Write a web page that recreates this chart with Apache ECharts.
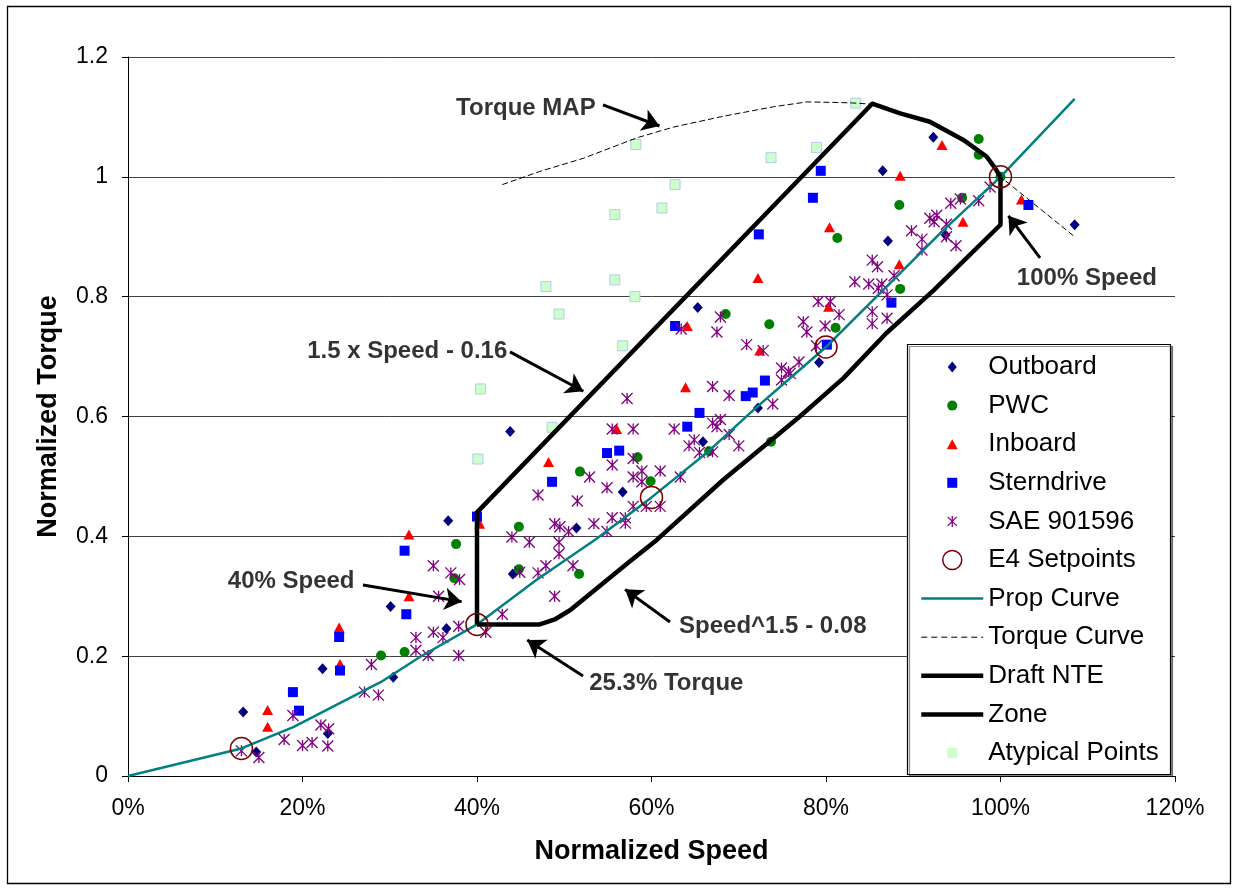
<!DOCTYPE html>
<html><head><meta charset="utf-8">
<script src="https://cdn.jsdelivr.net/npm/echarts@6/dist/echarts.min.js"></script>
<style>html,body{margin:0;padding:0;background:#fff}#chart{width:1238px;height:890px}</style>
</head><body><div id="chart"></div>
<script>
const FONT = "'Liberation Sans', Arial, sans-serif";

const xTickValues = [0, 0.2, 0.4, 0.6, 0.8, 1.0, 1.2];
const yTickValues = [0, 0.2, 0.4, 0.6, 0.8, 1.0, 1.2];

const outboard = [[0.132,0.107],[0.147,0.040],[0.223,0.179],[0.229,0.071],[0.301,0.283],[0.304,0.165],[0.367,0.426],[0.365,0.246],[0.438,0.575],[0.441,0.337],[0.514,0.414],[0.567,0.474],[0.653,0.782],[0.659,0.558],[0.722,0.614],[0.792,0.690],[0.865,1.010],[0.871,0.893],[0.923,1.066],[0.937,0.903],[1.085,0.920]];

const pwc = [[0.290,0.201],[0.317,0.207],[0.374,0.330],[0.376,0.387],[0.448,0.416],[0.448,0.345],[0.517,0.337],[0.518,0.508],[0.584,0.532],[0.599,0.492],[0.666,0.542],[0.685,0.771],[0.735,0.754],[0.737,0.558],[0.811,0.748],[0.813,0.898],[0.884,0.953],[0.885,0.813],[0.956,0.965],[0.975,1.063],[0.975,1.037],[1.000,1.000]];

const inboard = [[0.160,0.110],[0.160,0.082],[0.242,0.248],[0.243,0.187],[0.322,0.403],[0.322,0.300],[0.403,0.421],[0.482,0.524],[0.560,0.579],[0.639,0.649],[0.641,0.751],[0.722,0.831],[0.724,0.710],[0.803,0.783],[0.804,0.916],[0.884,0.854],[0.885,1.002],[0.933,1.053],[0.957,0.925],[1.024,0.962]];

const sterndrive = [[0.189,0.140],[0.196,0.109],[0.242,0.232],[0.243,0.176],[0.317,0.376],[0.319,0.270],[0.400,0.433],[0.486,0.491],[0.549,0.539],[0.563,0.543],[0.627,0.751],[0.641,0.583],[0.655,0.606],[0.708,0.634],[0.716,0.640],[0.730,0.660],[0.723,0.904],[0.785,0.965],[0.794,1.010],[0.801,0.720],[0.875,0.790],[1.032,0.953]];

const sae901596 = [[0.130,0.042],[0.150,0.031],[0.179,0.061],[0.189,0.101],[0.200,0.051],[0.211,0.056],[0.221,0.085],[0.230,0.079],[0.229,0.050],[0.271,0.140],[0.279,0.186],[0.287,0.135],
[0.330,0.231],[0.330,0.210],[0.344,0.201],[0.350,0.240],[0.361,0.231],[0.350,0.351],[0.356,0.300],[0.370,0.339],[0.380,0.328],[0.379,0.250],[0.379,0.201],[0.410,0.240],[0.429,0.270],[0.440,0.399],[0.449,0.340],[0.460,0.390],[0.470,0.339],[0.470,0.469],[0.479,0.351],[0.489,0.421],[0.495,0.416],[0.489,0.300],[0.494,0.390],[0.494,0.371],[0.505,0.408],[0.510,0.351],[0.515,0.459],[0.529,0.499],[0.534,0.421],[0.549,0.481],[0.549,0.408],[0.555,0.431],[0.570,0.431],[0.570,0.422],[0.555,0.519],[0.555,0.579],[0.572,0.630],
[0.579,0.579],[0.626,0.579],[0.579,0.530],[0.589,0.509],[0.610,0.509],[0.579,0.499],[0.589,0.491],[0.633,0.499],[0.579,0.450],[0.594,0.450],[0.610,0.450],[0.643,0.551],[0.649,0.561],[0.655,0.540],[0.670,0.541],[0.700,0.551],[0.689,0.570],[0.670,0.589],[0.679,0.595],[0.675,0.583],[0.670,0.650],[0.689,0.635],[0.634,0.746],[0.679,0.766],[0.675,0.741],[0.709,0.720],[0.728,0.710],[0.749,0.681],[0.757,0.675],[0.749,0.661],[0.739,0.621],
[0.769,0.691],[0.789,0.718],[0.759,0.672],[0.774,0.758],[0.778,0.741],[0.799,0.751],[0.791,0.792],[0.805,0.792],[0.815,0.770],[0.833,0.825],[0.849,0.821],[0.864,0.821],[0.860,0.814],[0.853,0.861],[0.859,0.850],[0.878,0.835],[0.870,0.803],[0.853,0.775],[0.853,0.755],[0.870,0.764],[0.898,0.910],[0.910,0.896],[0.910,0.878],[0.919,0.931],[0.927,0.936],[0.924,0.925],[0.938,0.921],[0.938,0.900],[0.949,0.885],[0.943,0.956],[0.954,0.963],[0.975,0.960],[0.988,0.983]];

const e4Setpoints = [[0.13,0.046],[0.4,0.253],[0.6,0.465],[0.8,0.716],[1.0,1.0]];

const propCurve = [[0,0],[0.13,0.046],[0.19,0.082],[0.23,0.112],[0.29,0.157],[0.335,0.199],[0.4,0.253],[0.468,0.327],[0.537,0.396],[0.6,0.465],[0.663,0.539],[0.717,0.611],[0.77,0.678],[0.8,0.716],[0.862,0.806],[0.931,0.906],[1.0,1.0],[1.085,1.13]];

const torqueCurve = [[0.429,0.987],[0.472,1.009],[0.522,1.031],[0.583,1.065],[0.625,1.083],[0.682,1.101],[0.740,1.117],[0.778,1.125],[0.816,1.124],[0.835,1.123],[0.854,1.121],[0.885,1.106],[0.919,1.092],[0.957,1.062],[0.984,1.034],[1.0,1.0],[1.085,0.9]];

const draftNte = [[0.4,0.253],[0.4,0.44],[0.853,1.122],[0.885,1.106],[0.919,1.092],[0.957,1.062],[0.984,1.034],[0.994,1.014],[1.0,1.0]];

const zone = [[0.4,0.253],[0.472,0.253],[0.49,0.262],[0.507,0.277],[0.575,0.358],[0.606,0.394],[0.682,0.494],[0.77,0.6],[0.82,0.664],[0.869,0.739],[0.923,0.81],[1.0,0.92],[1.0,1.0]];

const atypicalPoints = [[0.401,0.529],[0.404,0.646],[0.479,0.817],[0.486,0.582],[0.494,0.771],[0.558,0.828],[0.558,0.937],[0.567,0.718],[0.581,0.800],[0.582,1.054],[0.612,0.948],[0.627,0.987],[0.737,1.032],[0.789,1.049],[0.834,1.123]];

const annotationTexts = ['Torque MAP', '1.5 x Speed - 0.16', '40% Speed', 'Speed^1.5 - 0.08', '25.3% Torque', '100% Speed'];
const annotationAnchors = [[0.456,1.115],[0.320,0.7095],[0.187,0.324],[0.739,0.250],[0.617,0.154],[1.099,0.830]];
const arrowTails = [[0.5444,1.1202],[0.4378,0.7078],[0.2693,0.3189],[0.6212,0.2571],[0.5215,0.1669],[1.0453,0.8648]];
const arrowHeads = [[0.6092,1.0848],[0.5219,0.6421],[0.3824,0.2910],[0.5697,0.3115],[0.4576,0.2269],[1.0091,0.9349]];

const chart = echarts.init(document.getElementById('chart'), null, {renderer: 'canvas'});

const pad = 'M0,0M22,22';
const NOFILL = 'rgba(0,0,0,0)';
const option = {
  animation: false,
  backgroundColor: '#fff',
  textStyle: {fontFamily: FONT},
  grid: {left: 128, right: 63, top: 57, bottom: 114, containLabel: false},
  xAxis: {
    type: 'value', min: 0, max: 1.2, interval: 0.2,
    name: 'Normalized Speed', nameLocation: 'middle', nameGap: 62,
    nameTextStyle: {fontFamily: FONT, fontSize: 27, fontWeight: 'bold', color: '#000'},
    axisLine: {show: true, onZero: false, lineStyle: {color: '#000', width: 1}},
    axisTick: {show: true, inside: false, length: 6, lineStyle: {color: '#000'}},
    axisLabel: {show: true, margin: 21, fontFamily: FONT, fontSize: 23, color: '#000',
      formatter: v => Math.round(v * 100) + '%'},
    splitLine: {show: false}
  },
  yAxis: {
    type: 'value', min: 0, max: 1.2, interval: 0.2,
    name: 'Normalized Torque', nameLocation: 'middle', nameGap: 66, nameRotate: 90,
    nameTextStyle: {fontFamily: FONT, fontSize: 27, fontWeight: 'bold', color: '#000'},
    axisLine: {show: true, onZero: false, lineStyle: {color: '#000', width: 1}},
    axisTick: {show: true, inside: false, length: 6, lineStyle: {color: '#000'}},
    axisLabel: {show: true, margin: 20, fontFamily: FONT, fontSize: 23, color: '#000',
      formatter: v => String(parseFloat(v.toFixed(1)))},
    splitLine: {show: true, lineStyle: {color: '#404040', width: 1}}
  },
  legend: {
    orient: 'vertical', left: 919, top: 354, padding: 0,
    itemWidth: 62, itemHeight: 22, itemGap: 12.6,
    selectedMode: false,
    textStyle: {fontFamily: FONT, fontSize: 26, color: '#000'},
    data: [
      {name: 'Outboard', icon: 'path://' + pad + 'M11,5.5L15.5,11L11,16.5L6.5,11Z', itemStyle: {color: '#000080', borderWidth: 0}},
      {name: 'PWC', icon: 'path://' + pad + 'M16,11A5,5,0,1,1,6,11A5,5,0,1,1,16,11Z', itemStyle: {color: '#008000', borderWidth: 0}},
      {name: 'Inboard', icon: 'path://' + pad + 'M11,6L16.5,16L5.5,16Z', itemStyle: {color: '#ff0000', borderWidth: 0}},
      {name: 'Sterndrive', icon: 'path://' + pad + 'M6,6L16,6L16,16L6,16Z', itemStyle: {color: '#0000ff', borderWidth: 0}},
      {name: 'SAE 901596', icon: 'path://' + pad + 'M6.5,6.5L15.5,15.5M15.5,6.5L6.5,15.5M11,5.5L11,16.5', itemStyle: {color: '#800080', borderColor: '#800080', borderWidth: 1.3}},
      {name: 'E4 Setpoints', icon: 'path://' + pad + 'M20.5,11A9.5,9.5,0,1,1,1.5,11A9.5,9.5,0,1,1,20.5,11Z', itemStyle: {color: NOFILL, borderColor: '#800000', borderWidth: 1.5}},
      {name: 'Prop Curve', itemStyle: {color: NOFILL, borderWidth: 0}, lineStyle: {color: '#008080', width: 2.5}},
      {name: 'Torque Curve', itemStyle: {color: NOFILL, borderWidth: 0}, lineStyle: {color: '#000', width: 1, type: [6, 4]}},
      {name: 'Draft NTE', itemStyle: {color: NOFILL, borderWidth: 0}, lineStyle: {color: '#000', width: 4.5}},
      {name: 'Zone', itemStyle: {color: NOFILL, borderWidth: 0}, lineStyle: {color: '#000', width: 4.5}},
      {name: 'Atypical Points', icon: 'path://' + pad + 'M6,6L16,6L16,16L6,16Z', itemStyle: {color: '#ccffcc', borderWidth: 0}}
    ]
  },
  graphic: [
    {type: 'rect', z: 1, shape: {x: 7.5, y: 6.5, width: 1223, height: 877}, style: {fill: 'none', stroke: '#000', lineWidth: 1.3}},
    {type: 'rect', z: 1, shape: {x: 907.5, y: 344.5, width: 263, height: 430},
      style: {fill: '#fff', stroke: '#000', lineWidth: 1.2, shadowColor: 'rgba(0,0,0,0.45)', shadowOffsetX: 2, shadowOffsetY: 2, shadowBlur: 0}}
  ],
  series: [
    {name: 'Atypical Points', type: 'scatter', data: atypicalPoints, symbol: 'rect', symbolSize: 10, z: 3,
      itemStyle: {color: '#ccffcc', borderColor: '#b0ccf0', borderWidth: 1, opacity: 1}},
    {name: 'Outboard', type: 'scatter', data: outboard, symbol: 'diamond', symbolSize: [10, 11], z: 3,
      itemStyle: {color: '#000080', opacity: 1}},
    {name: 'PWC', type: 'scatter', data: pwc, symbol: 'circle', symbolSize: 10, z: 3,
      itemStyle: {color: '#008000', opacity: 1}},
    {name: 'Inboard', type: 'scatter', data: inboard, symbol: 'triangle', symbolSize: [11, 10], z: 3,
      itemStyle: {color: '#ff0000', opacity: 1}},
    {name: 'Sterndrive', type: 'scatter', data: sterndrive, symbol: 'rect', symbolSize: 10, z: 3,
      itemStyle: {color: '#0000ff', opacity: 1}},
    {name: 'SAE 901596', type: 'scatter', data: sae901596, symbol: 'path://M0,0L10,10M10,0L0,10M5,0L5,10', symbolSize: 11, z: 3,
      itemStyle: {color: '#800080', borderColor: '#800080', borderWidth: 1.3, opacity: 1}},
    {name: 'Prop Curve', type: 'line', data: propCurve, symbol: 'none', z: 4,
      itemStyle: {color: NOFILL}, lineStyle: {color: '#008080', width: 2.5}},
    {name: 'Torque Curve', type: 'line', data: torqueCurve, symbol: 'none', z: 4,
      itemStyle: {color: NOFILL}, lineStyle: {color: '#000', width: 1, type: [6, 3]}},
    {name: 'Draft NTE', type: 'line', data: draftNte, symbol: 'none', z: 5,
      itemStyle: {color: NOFILL}, lineStyle: {color: '#000', width: 4.5, join: 'round'}},
    {name: 'Zone', type: 'line', data: zone, symbol: 'none', z: 5,
      itemStyle: {color: NOFILL}, lineStyle: {color: '#000', width: 4.5, join: 'round'}},
    {name: 'E4 Setpoints', type: 'scatter', data: e4Setpoints, symbol: 'circle', symbolSize: 22, z: 6,
      itemStyle: {color: NOFILL, borderColor: '#800000', borderWidth: 1.5, opacity: 1}},
    {name: 'annotationArrows', type: 'lines', coordinateSystem: 'cartesian2d', z: 7, silent: true,
      symbol: ['none', 'arrow'], symbolSize: [0, 17],
      lineStyle: {color: '#000', width: 3, opacity: 1, curveness: 0},
      data: arrowTails.map((t, i) => ({coords: [t, arrowHeads[i]]}))},
    {name: 'annotationLabels', type: 'scatter', z: 8, silent: true, symbolSize: 0,
      itemStyle: {color: NOFILL},
      label: {show: true, position: 'inside', formatter: '{b}', fontFamily: FONT, fontSize: 24, fontWeight: 'bold', color: '#000'},
      data: annotationTexts.map((t, i) => ({name: t, value: annotationAnchors[i]}))}
  ]
};
chart.setOption(option);
</script>
</body></html>
